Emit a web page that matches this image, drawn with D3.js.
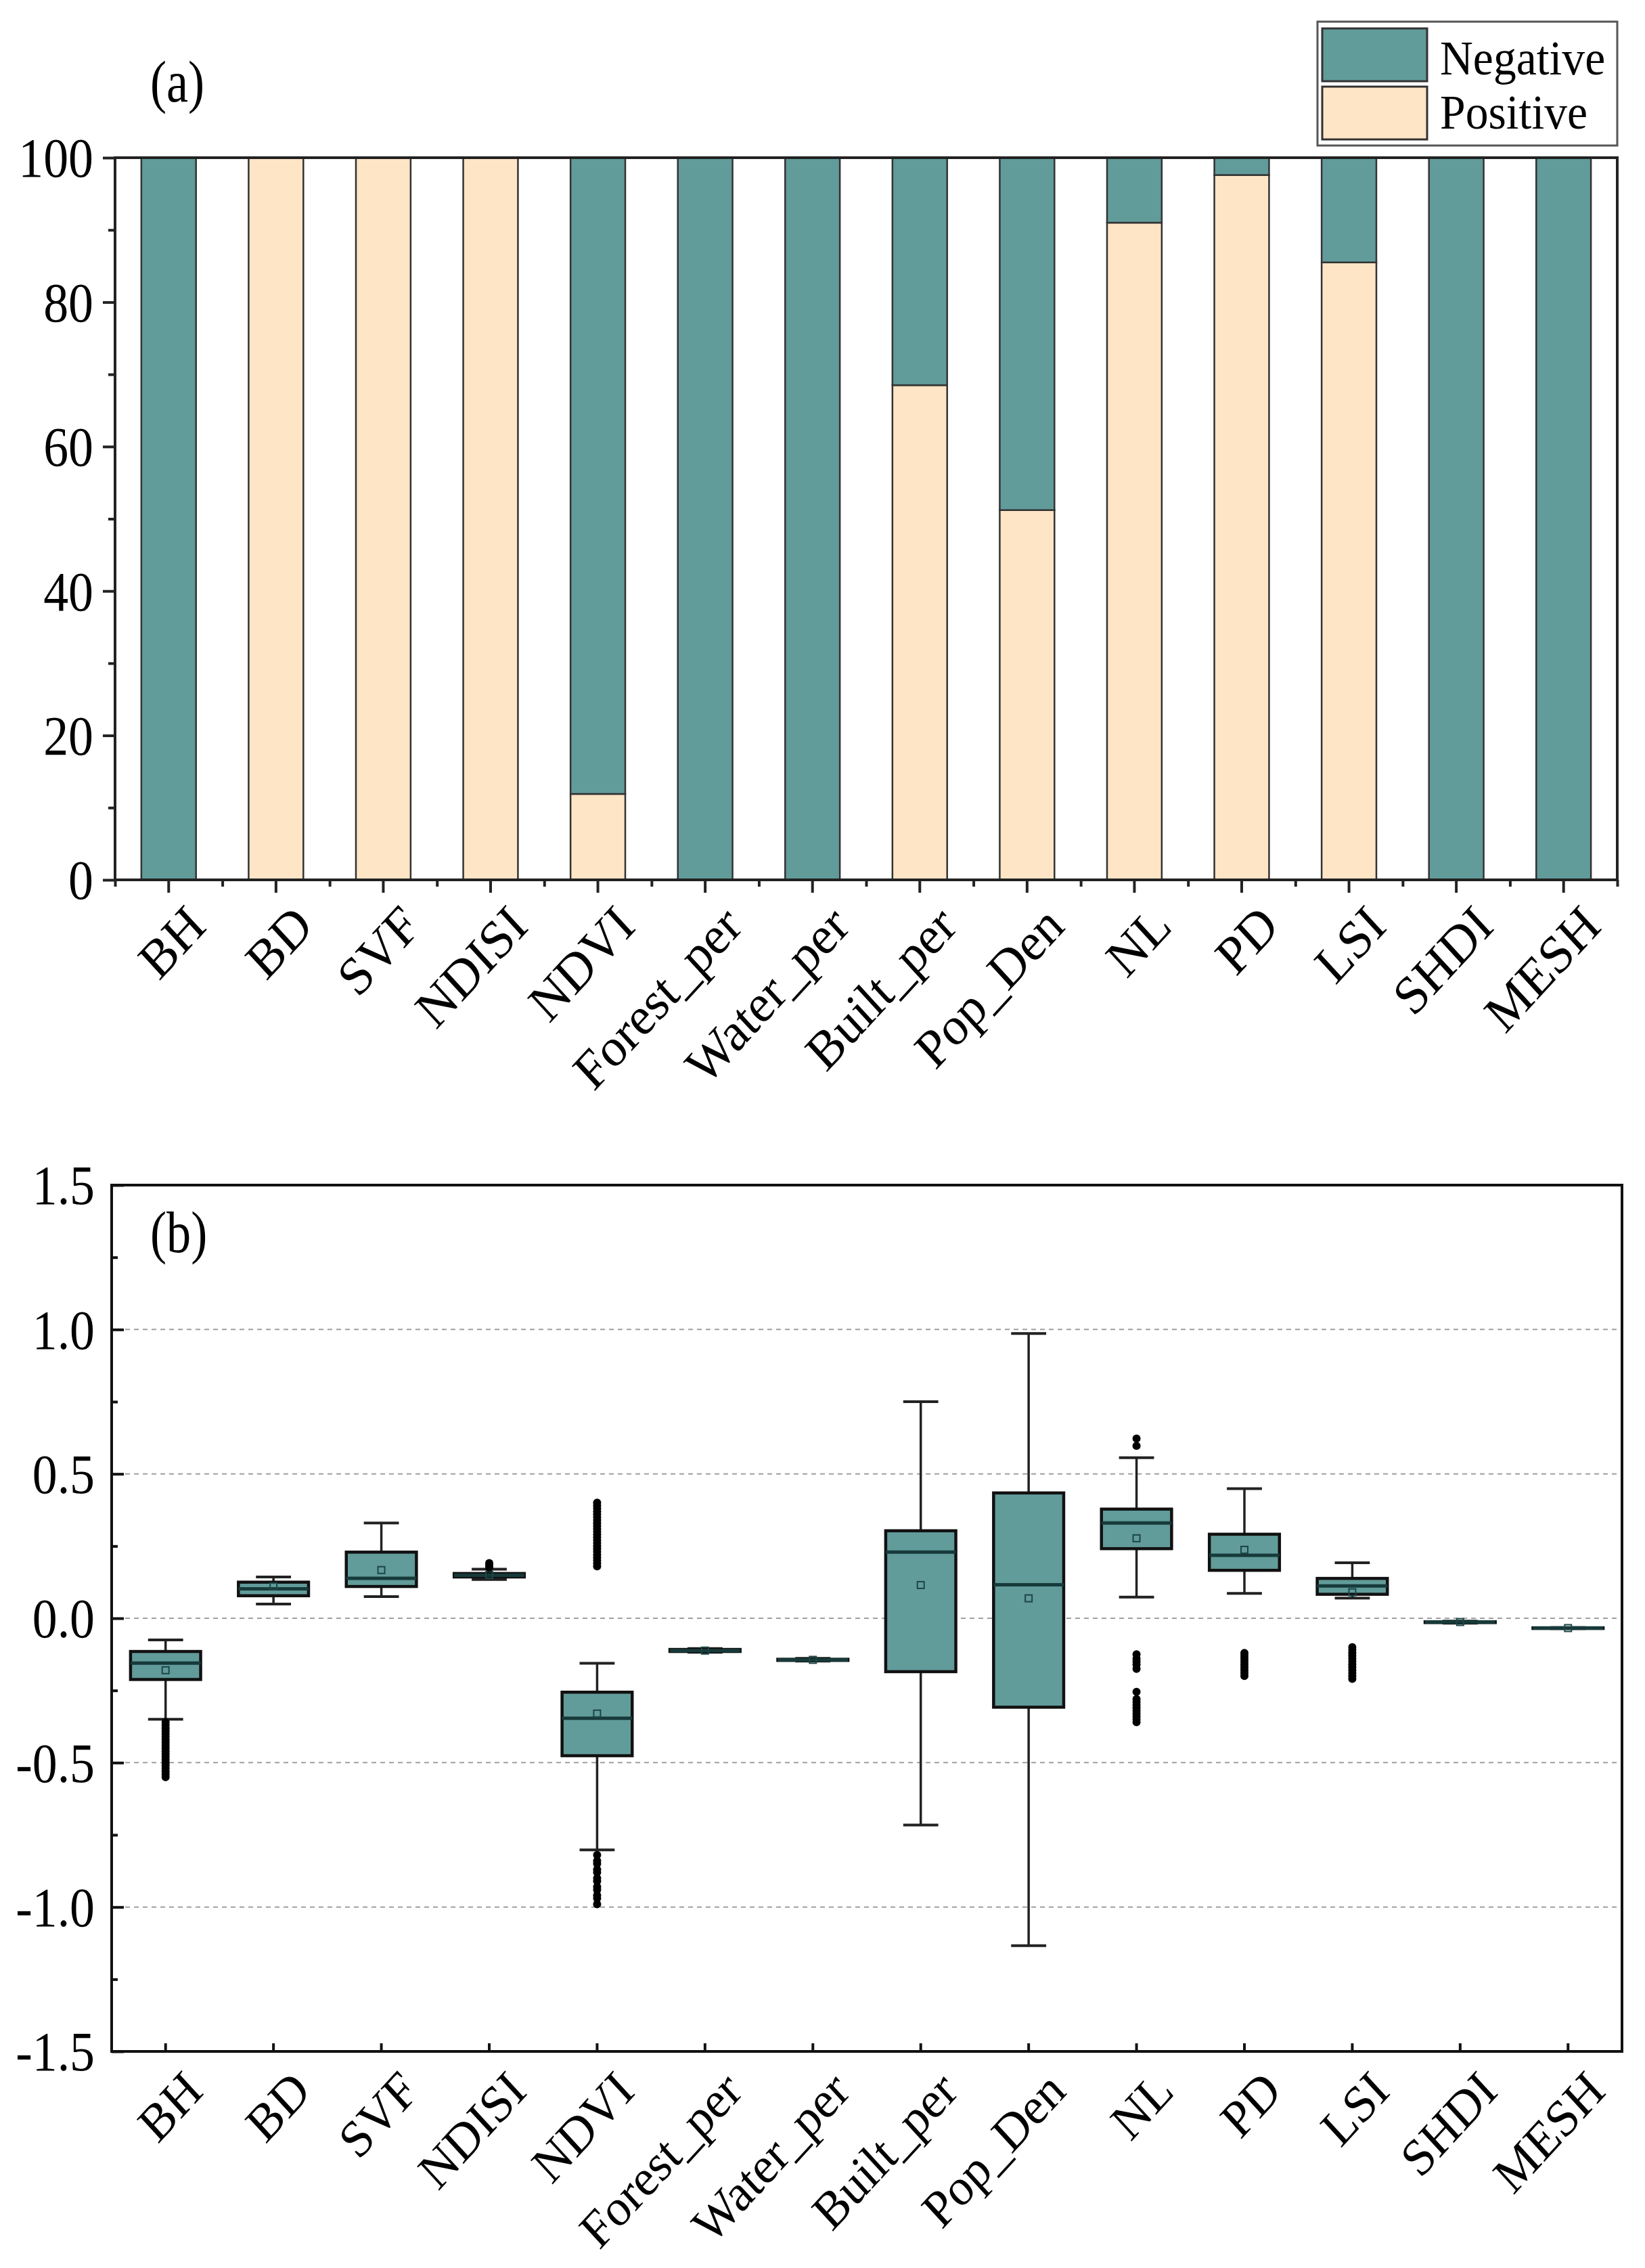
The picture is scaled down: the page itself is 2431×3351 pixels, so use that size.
<!DOCTYPE html>
<html>
<head>
<meta charset="utf-8">
<style>
  body { margin: 0; background: #fff; }
  text { font-family: "Liberation Serif", "Times New Roman", serif; fill: #000; }
</style>
</head>
<body>
<svg id="chart"></svg>
<script src="https://cdnjs.cloudflare.com/ajax/libs/d3/7.8.5/d3.min.js"></script>
<script>
// ---- data ----
const variables = ["BH", "BD", "SVF", "NDISI", "NDVI", "Forest_per", "Water_per",
                   "Built_per", "Pop_Den", "NL", "PD", "LSI", "SHDI", "MESH"];

// panel (a): share of positive effect (%), negative = 100 - positive
const positivePct = [0, 100, 100, 100, 11.9, 0, 0, 68.5, 51.2, 91.0, 97.6, 85.5, 0, 0];

// panel (b): box statistics
const whiskLow  = [-0.350, 0.049, 0.075, 0.134, -0.802, -0.118, -0.148, -0.716, -1.134, 0.073, 0.086, 0.070, -0.017, -0.036];
const q1        = [-0.212, 0.078, 0.110, 0.143, -0.476, -0.115, -0.146, -0.185, -0.308, 0.241, 0.166, 0.083, -0.015, -0.035];
const medians   = [-0.155, 0.102, 0.138, 0.149, -0.346, -0.112, -0.144,  0.229,  0.116, 0.330, 0.218, 0.112, -0.013, -0.034];
const q3        = [-0.115, 0.125, 0.229, 0.155, -0.256, -0.108, -0.142,  0.303,  0.434, 0.378, 0.291, 0.138, -0.012, -0.033];
const whiskHigh = [-0.075, 0.143, 0.330, 0.170, -0.156, -0.105, -0.139,  0.750,  0.986, 0.556, 0.449, 0.192, -0.010, -0.032];
const means     = [-0.180, 0.110, 0.167, 0.150, -0.330, -0.112, -0.144,  0.115,  0.069, 0.277, 0.237, 0.090, -0.013, -0.034];
const outliers = [
  [-0.36, -0.37, -0.38, -0.39, -0.40, -0.41, -0.42, -0.43, -0.44, -0.45, -0.46, -0.47, -0.48, -0.49, -0.50, -0.51, -0.52, -0.53, -0.54, -0.55],
  [],
  [],
  [0.176, 0.184, 0.191],
  [0.18, 0.19, 0.20, 0.21, 0.22, 0.23, 0.24, 0.25, 0.26, 0.27, 0.28, 0.29, 0.30, 0.31, 0.32, 0.33, 0.34, 0.35, 0.36, 0.37, 0.38, 0.39, 0.40,
   -0.82, -0.84, -0.85, -0.87, -0.88, -0.90, -0.91, -0.93, -0.94, -0.96, -0.97, -0.99],
  [],
  [],
  [],
  [],
  [0.597, 0.622, -0.125, -0.14, -0.15, -0.16, -0.175, -0.255, -0.28, -0.29, -0.30, -0.31, -0.32, -0.33, -0.34, -0.35, -0.36],
  [-0.12, -0.13, -0.14, -0.15, -0.16, -0.17, -0.18, -0.19, -0.20],
  [-0.10, -0.11, -0.12, -0.13, -0.14, -0.15, -0.16, -0.17, -0.18, -0.19, -0.20, -0.21],
  [],
  []
];

const pctTicks = [0, 20, 40, 60, 80, 100];
const pctMinor = [10, 30, 50, 70, 90];
const effTicks = [-1.5, -1.0, -0.5, 0.0, 0.5, 1.0, 1.5];
const effMinor = [-1.25, -0.75, -0.25, 0.25, 0.75, 1.25];
const effGrid  = [-1.0, -0.5, 0.0, 0.5, 1.0];
const legendKeys = ["Negative", "Positive"];

const teal = "#619b9a";
const peach = "#fee5c6";

const W = 2431, H = 3351;
const svg = d3.select("#chart").attr("width", W).attr("height", H)
  .attr("viewBox", `0 0 ${W} ${H}`);
svg.append("rect").attr("width", W).attr("height", H).attr("fill", "#fff");

// squeeze horizontal text a bit (the figure's font is narrow)
function squeeze(sel, sx) {
  sel.each(function () {
    const t = d3.select(this);
    const x = +t.attr("x") || 0, y = +t.attr("y") || 0;
    t.attr("transform", `translate(${x},${y}) scale(${sx},1)`).attr("x", 0).attr("y", 0);
  });
}

// ================= panel (a) =================
const xa = d3.scaleBand().domain(variables).range([170, 2390]).padding(0);
const ya = d3.scaleLinear().domain([0, 100]).range([1300, 233]);

const rows = variables.map((v, i) => ({ name: v, Positive: positivePct[i], Negative: 100 - positivePct[i] }));
const stacked = d3.stack().keys(["Positive", "Negative"])(rows);
const barW = xa.bandwidth() * 0.51;

const gA = svg.append("g");
gA.selectAll("g.layer").data(stacked).join("g")
  .attr("fill", d => d.key === "Positive" ? peach : teal)
  .selectAll("rect").data(d => d.filter(s => s[1] - s[0] > 0)).join("rect")
  .attr("x", d => xa(d.data.name) + (xa.bandwidth() - barW) / 2)
  .attr("width", barW)
  .attr("y", d => ya(d[1]))
  .attr("height", d => ya(d[0]) - ya(d[1]))
  .attr("stroke", "#333").attr("stroke-width", 2.5);

// frame
gA.append("rect").attr("x", 170).attr("y", 233).attr("width", 2390 - 170).attr("height", 1300 - 233)
  .attr("fill", "none").attr("stroke", "#222").attr("stroke-width", 4);

// y axis
const yAxisA = gA.append("g").attr("transform", "translate(170,0)")
  .call(d3.axisLeft(ya).tickValues(pctTicks).tickSize(18).tickPadding(14).tickFormat(d => d));
const yMinorA = gA.append("g").attr("transform", "translate(170,0)")
  .call(d3.axisLeft(ya).tickValues(pctMinor).tickSize(10).tickFormat(""));
// x axis
const xAxisA = gA.append("g").attr("transform", "translate(0,1300)")
  .call(d3.axisBottom(xa).tickSize(19).tickFormat(""));
const xMinorA = gA.append("g").attr("transform", "translate(0,1300)")
  .call(d3.axisBottom(d3.scaleLinear().domain([0, variables.length]).range([170, 2390]))
    .tickValues(d3.range(0, variables.length + 1)).tickSize(10).tickFormat(""));

[yAxisA, yMinorA, xAxisA, xMinorA].forEach(g => {
  g.select(".domain").remove();
  g.selectAll("line").attr("stroke", "#222").attr("stroke-width", 4);
});
yAxisA.selectAll("text").attr("font-size", 82).attr("dy", "0.34em");
squeeze(yAxisA.selectAll("text"), 0.9);

gA.selectAll("text.xlab").data(variables).join("text")
  .attr("class", "xlab")
  .attr("transform", d => `translate(${xa(d) + xa.bandwidth() / 2 + 58},${1300 + 72}) scale(0.92,1) rotate(-45)`)
  .attr("text-anchor", "end").attr("font-size", 80).text(d => d);

gA.append("text").attr("x", 222).attr("y", 150).attr("font-size", 86).text("(a)")
  .call(s => squeeze(s, 0.84));

// legend
const leg = svg.append("g");
leg.append("rect").attr("x", 1947).attr("y", 32).attr("width", 443).attr("height", 183)
  .attr("fill", "#fff").attr("stroke", "#555").attr("stroke-width", 3);
leg.selectAll("rect.sw").data(legendKeys).join("rect").attr("class", "sw")
  .attr("x", 1954).attr("y", (d, i) => 42 + i * 86).attr("width", 155).attr("height", 78)
  .attr("fill", d => d === "Negative" ? teal : peach).attr("stroke", "#333").attr("stroke-width", 3);
leg.selectAll("text").data(legendKeys).join("text")
  .attr("x", 2128).attr("y", (d, i) => 110 + i * 80).attr("font-size", 72).text(d => d)
  .call(s => squeeze(s, 0.94));

// ================= panel (b) =================
const xb = d3.scaleBand().domain(variables).range([165, 2397]).padding(0);
const yb = d3.scaleLinear().domain([-1.5, 1.5]).range([3031, 1751]);
const gB = svg.append("g");

gB.selectAll("line.grid").data(effGrid).join("line").attr("class", "grid")
  .attr("x1", 185).attr("x2", 2397).attr("y1", d => yb(d)).attr("y2", d => yb(d))
  .attr("stroke", "#a0a0a0").attr("stroke-width", 2).attr("stroke-dasharray", "7,6");

const boxes = variables.map((v, i) => ({
  name: v, lo: whiskLow[i], q1: q1[i], med: medians[i], q3: q3[i], hi: whiskHigh[i],
  mean: means[i], out: outliers[i]
}));
const boxW = xb.bandwidth() * 0.65, capW = boxW / 2;
const cx = d => xb(d.name) + xb.bandwidth() / 2;

const bx = gB.selectAll("g.box").data(boxes).join("g").attr("class", "box");
bx.append("line").attr("x1", cx).attr("x2", cx).attr("y1", d => yb(d.lo)).attr("y2", d => yb(d.q1))
  .attr("stroke", "#222").attr("stroke-width", 3.5);
bx.append("line").attr("x1", cx).attr("x2", cx).attr("y1", d => yb(d.q3)).attr("y2", d => yb(d.hi))
  .attr("stroke", "#222").attr("stroke-width", 3.5);
bx.append("line").attr("x1", d => cx(d) - capW / 2).attr("x2", d => cx(d) + capW / 2)
  .attr("y1", d => yb(d.lo)).attr("y2", d => yb(d.lo)).attr("stroke", "#222").attr("stroke-width", 4);
bx.append("line").attr("x1", d => cx(d) - capW / 2).attr("x2", d => cx(d) + capW / 2)
  .attr("y1", d => yb(d.hi)).attr("y2", d => yb(d.hi)).attr("stroke", "#222").attr("stroke-width", 4);
bx.append("rect").attr("x", d => cx(d) - boxW / 2).attr("width", boxW)
  .attr("y", d => yb(d.q3)).attr("height", d => Math.max(1, yb(d.q1) - yb(d.q3)))
  .attr("fill", teal).attr("stroke", "#111").attr("stroke-width", 4.5);
bx.append("line").attr("x1", d => cx(d) - boxW / 2).attr("x2", d => cx(d) + boxW / 2)
  .attr("y1", d => yb(d.med)).attr("y2", d => yb(d.med)).attr("stroke", "#173a3a").attr("stroke-width", 5);
bx.append("rect").attr("x", d => cx(d) - 5).attr("y", d => yb(d.mean) - 5).attr("width", 10).attr("height", 10)
  .attr("fill", "none").attr("stroke", "#1d4646").attr("stroke-width", 2);
bx.selectAll("circle").data(d => d.out.map(o => ({ x: cx(d), v: o }))).join("circle")
  .attr("cx", d => d.x).attr("cy", d => yb(d.v)).attr("r", 6).attr("fill", "#000");

// frame
gB.append("rect").attr("x", 165).attr("y", 1751).attr("width", 2397 - 165).attr("height", 3031 - 1751)
  .attr("fill", "none").attr("stroke", "#111").attr("stroke-width", 4);

const yAxisB = gB.append("g").attr("transform", "translate(165,0)")
  .call(d3.axisLeft(yb).tickValues(effTicks).tickSizeInner(-18).tickSizeOuter(0).tickPadding(25)
    .tickFormat(d => d.toFixed(1)));
const yMinorB = gB.append("g").attr("transform", "translate(165,0)")
  .call(d3.axisLeft(yb).tickValues(effMinor).tickSizeInner(-9).tickSizeOuter(0).tickFormat(""));
const xAxisB = gB.append("g").attr("transform", "translate(0,3031)")
  .call(d3.axisBottom(xb).tickSizeInner(-12).tickSizeOuter(0).tickFormat(""));
[yAxisB, yMinorB, xAxisB].forEach(g => {
  g.select(".domain").remove();
  g.selectAll("line").attr("stroke", "#111").attr("stroke-width", 4);
});
yAxisB.selectAll("text").attr("font-size", 82).attr("dy", "0.34em");
squeeze(yAxisB.selectAll("text"), 0.9);

gB.selectAll("text.xlab").data(variables).join("text")
  .attr("class", "xlab")
  .attr("transform", d => `translate(${xb(d) + xb.bandwidth() / 2 + 58},${3031 + 62}) scale(0.92,1) rotate(-45)`)
  .attr("text-anchor", "end").attr("font-size", 77).text(d => d);

gB.append("text").attr("x", 222).attr("y", 1850).attr("font-size", 86).text("(b)")
  .call(s => squeeze(s, 0.84));
</script>
</body>
</html>
